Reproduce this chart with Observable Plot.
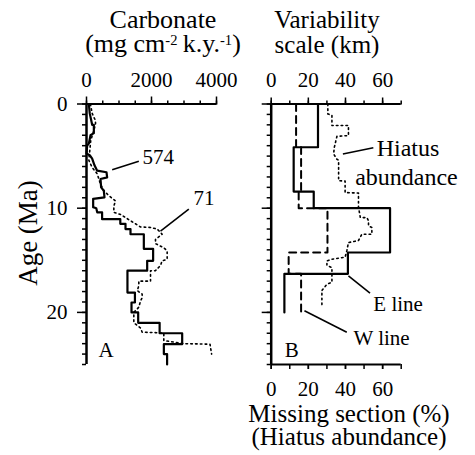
<!DOCTYPE html>
<html><head><meta charset="utf-8">
<script src="https://cdn.jsdelivr.net/npm/d3@7"></script>
<script src="https://cdn.jsdelivr.net/npm/@observablehq/plot@0.6"></script>
<style>
body{margin:0;background:#fff;}
#wrap{position:relative;width:475px;height:455px;font-family:"Liberation Serif",serif;color:#000;}
#wrap svg{position:absolute;left:0;top:0;overflow:visible;}
.t{position:absolute;white-space:nowrap;text-align:center;transform:translateX(-50%);}
.s{font-size:0.56em;vertical-align:0.5em;line-height:0;}
</style></head><body><div id="wrap"></div>
<script>
// ---- tick labels ----
const ageMajorTicks = [0, 10, 20];
const ageMinorTicks = [0,1,2,3,4,5,6,7,8,9,10,11,12,13,14,15,16,17,18,19,20,21,22,23,24,25];
const carbMajorTicks = [0, 2000, 4000];
const carbMinorTicks = [0, 500, 1000, 1500, 2000, 2500, 3000, 3500, 4000];
const missMajorTicks = [0, 20, 40, 60];
const missMinorTicks = [0, 10, 20, 30, 40, 50, 60, 70];

// ---- Panel A: carbonate accumulation, [age Ma, mg cm-2 k.y.-1] ----
const site574 = [[0,72],[0.9,100],[2.0,174],[2.0,226],[2.8,226],[3.0,123],[3.8,72],[4.0,20],[4.76,0],[4.92,100],[5.24,174],[5.88,246],[6.4,328],[6.55,615],[7.04,636],[7.2,431],[8.0,450],[8.33,533],[8.96,554],[9.1,205],[9.9,205],[10.0,300],[10.4,330],[10.4,480],[11.05,480],[11.05,1040],[11.5,1040],[11.5,1200],[12.0,1200],[12.0,1354],[12.5,1354],[12.5,1764],[13.9,1764],[13.9,2050],[15.05,2050],[15.05,1867],[16.0,1867],[16.0,1260],[18.1,1260],[18.1,1490],[19.05,1490],[19.05,1385],[20.0,1385],[20.0,1590],[21.0,1590],[21.0,2250],[22.0,2250],[22.0,2944],[23.05,2944],[23.05,2380],[24.0,2380],[24.0,2480],[25.0,2480]];
const site71 = [[0,120],[0.9,174],[1.6,277],[1.9,277],[2.55,226],[3.5,130],[4.5,100],[5.4,72],[6.1,174],[6.7,330],[7.7,431],[8.3,533],[8.8,687],[9.3,892],[9.8,841],[10.4,841],[10.6,1046],[11.0,1251],[11.4,1456],[11.8,1662],[11.85,1969],[12.0,2174],[12.5,2328],[13.0,2123],[13.4,2123],[13.8,2379],[14.1,2482],[14.9,2482],[15.05,2328],[15.5,2277],[16.0,2120],[16.0,1970],[17.0,1970],[17.0,1610],[17.45,1610],[17.9,1560],[18.25,1713],[18.6,1713],[18.9,1662],[19.5,1610],[20.0,1456],[21.0,1456],[21.5,1662],[21.9,1713],[21.95,2174],[22.0,2379],[22.7,2379],[23.0,3000],[23.05,3800],[24.0,3850]];

// ---- Panel B: variability scale (km) as steps [top age, bottom age, km] ----
const eLine = [[0,4.15,25.2],[4.15,8.4,12.1],[8.4,10,22.9],[10,14.25,64],[14.25,16.3,41.3],[16.3,20,7.1]];
const wLine = [[0,4.15,13.4],[4.15,8.4,16.1],[8.4,10,14.8],[10,14.25,30.3],[14.25,16.3,9.4],[16.3,20,16.1]];
// hiatus abundance (% missing section), [age, %]
const hiatus = [[0,30.5],[0.95,30.5],[1.1,32.7],[2.07,32.7],[2.07,41.6],[3.03,41.6],[3.1,35.4],[4.15,34],[4.8,33.6],[5.3,35.4],[5.4,36.3],[7.36,36.3],[7.4,39.8],[8.5,39.8],[8.55,47],[9.9,47],[10.9,48],[10.9,51.5],[11.2,52.4],[11.7,52.4],[11.85,54.2],[12.5,54.2],[12.5,48.8],[13.1,47],[13.3,41.6],[14.1,40.7],[14.7,39.8],[14.9,32.7],[15.05,30],[15.5,30],[15.7,32.7],[17.1,32.7],[17.3,30],[17.9,27.3],[19.5,27.3]];

// ---- annotations (data units) ----
const labelsA = [{t:"574",v:1723,age:5.14},{t:"71",v:3290,age:9.04},{t:"A",v:370,age:23.65}];
const leadersA = [{v1:790,a1:6.3,v2:1610,a2:5.5},{v1:2277,a1:12.2,v2:3148,a2:10.1}];
const labelsB = [{t:"Hiatus",v:56.8,age:4.23,fs:24},{t:"abundance",v:45.2,age:7.0,fs:24},{t:"E line",v:55,age:19.2,fs:21},{t:"W line",v:44.3,age:22.5,fs:21},{t:"B",v:7.3,age:23.6,fs:21}];
const leadersB = [{v1:38.6,a1:4.79,v2:55,a2:4.2},{v1:41.6,a1:16.5,v2:53.2,a2:18.15},{v1:17.9,a1:19.85,v2:40.7,a2:21.9}];

const pts = arr => arr.map(([age, v]) => ({age, v}));
const steps = arr => arr.flatMap(([a0, a1, v]) => [{age:a0, v}, {age:a1, v}]);

const font = '"Liberation Serif", serif';
const common = {
  width: 475, height: 455, marginTop: 103.5, marginBottom: 91,
  style: {fontFamily: font, background: "transparent", overflow: "visible", color: "black"},
  y: {domain: [0, 25], reverse: true, label: null, axis: null}
};

const plotA = Plot.plot({
  ...common, marginLeft: 86, marginRight: 259,
  x: {domain: [0, 4000], label: null, axis: null},
  marks: [
    Plot.axisX(carbMinorTicks, {anchor: "top", tickSize: 4, fill: "none", strokeWidth: 1.5, label: null}),
    Plot.axisX(carbMajorTicks, {anchor: "top", tickSize: 8, tickPadding: 9, fontSize: 21, tickFormat: d => String(d), strokeWidth: 1.5, label: null}),
    Plot.axisY(ageMinorTicks, {anchor: "left", tickSize: 4, fill: "none", strokeWidth: 1.5, label: null}),
    Plot.axisY(ageMajorTicks, {anchor: "left", tickSize: 9, tickPadding: 10, fontSize: 21, tickFormat: d => String(d), strokeWidth: 1.5, label: null}),
    Plot.ruleY([0], {strokeWidth: 2}),
    Plot.ruleX([0], {strokeWidth: 2.5}),
    Plot.line(pts(site71), {x: "v", y: "age", stroke: "black", strokeWidth: 1.6, strokeDasharray: "1.6,3.2"}),
    Plot.line(pts(site574), {x: "v", y: "age", stroke: "black", strokeWidth: 2.2}),
    Plot.link(leadersA, {x1: "v1", y1: "a1", x2: "v2", y2: "a2", stroke: "black", strokeWidth: 1.6}),
    Plot.text(labelsA, {x: "v", y: "age", text: "t", fontSize: 21, textAnchor: "start", fill: "black"})
  ]
});

const plotB = Plot.plot({
  ...common, marginLeft: 270.7, marginRight: 74.3,
  x: {domain: [0, 70], label: null, axis: null},
  marks: [
    Plot.axisX(missMinorTicks, {anchor: "top", tickSize: 4, fill: "none", strokeWidth: 1.5, label: null}),
    Plot.axisX(missMajorTicks, {anchor: "top", tickSize: 7, tickPadding: 10, fontSize: 21, tickFormat: d => String(d), strokeWidth: 1.5, label: null}),
    Plot.axisX(missMinorTicks, {anchor: "bottom", tickSize: 5, fill: "none", strokeWidth: 1.5, label: null}),
    Plot.axisX(missMajorTicks, {anchor: "bottom", tickSize: 5, tickPadding: 12, fontSize: 21, tickFormat: d => String(d), strokeWidth: 1.5, label: null}),
    Plot.axisY(ageMinorTicks, {anchor: "left", tickSize: 4, fill: "none", strokeWidth: 1.5, label: null}),
    Plot.axisY(ageMajorTicks, {anchor: "left", tickSize: 9, fill: "none", strokeWidth: 1.5, label: null}),
    Plot.ruleY([0, 25], {strokeWidth: 2}),
    Plot.ruleX([0], {strokeWidth: 2.5}),
    Plot.line(pts(hiatus), {x: "v", y: "age", stroke: "black", strokeWidth: 1.6, strokeDasharray: "1.6,3.2"}),
    Plot.line(steps(wLine), {x: "v", y: "age", stroke: "black", strokeWidth: 2, strokeDasharray: "7,5"}),
    Plot.line(steps(eLine), {x: "v", y: "age", stroke: "black", strokeWidth: 2.2}),
    Plot.link(leadersB, {x1: "v1", y1: "a1", x2: "v2", y2: "a2", stroke: "black", strokeWidth: 1.6}),
    Plot.text(labelsB, {x: "v", y: "age", text: "t", fontSize: d => d.fs, textAnchor: "start", fill: "black"})
  ]
});

const wrap = document.getElementById("wrap");
wrap.appendChild(plotA);
wrap.appendChild(plotB);

// multi-line title block; lh = line spacing in px, baseline = first baseline
function addText(html, cx, baseline, fs, lh, extra) {
  const d = document.createElement("div");
  d.className = "t";
  d.innerHTML = html;
  d.style.fontSize = fs + "px";
  d.style.lineHeight = lh + "px";
  d.style.left = cx + "px";
  const off = (lh - 1.107 * fs) / 2 + 0.891 * fs;
  d.style.top = (baseline - off) + "px";
  if (extra) Object.assign(d.style, extra);
  wrap.appendChild(d);
  return d;
}
addText('Carbonate<br>(mg cm<span class="s">-2</span>&#8201;k.y.<span class="s">-1</span>)', 163, 29, 26, 24);
addText("Variability<br>scale (km)", 327, 28, 25, 25);
addText("Missing section (%)<br>(Hiatus abundance)", 349, 422, 25, 23);
addText("Age (Ma)", 28, 233 + 0.7875 * 27 - 12.15, 27, 24, {transform: "translate(-50%,0) rotate(-90deg)", transformOrigin: "50% 50%"});
</script></body></html>
